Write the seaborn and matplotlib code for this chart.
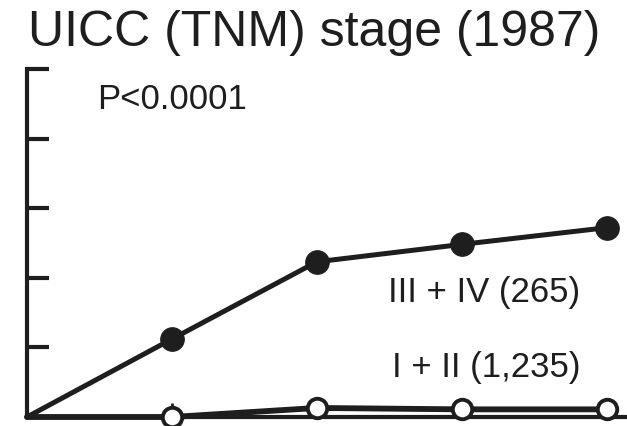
import matplotlib
matplotlib.use("Agg")
import matplotlib.pyplot as plt
import seaborn as sns
import pandas as pd

# values (y in tick units, x in intervals)
years = [0, 1, 2, 3, 4]
stage_3_4 = [0.0, 1.12, 2.23, 2.48, 2.72]
stage_1_2 = [0.0, 0.0, 0.13, 0.11, 0.11]
y_ticks = [0, 1, 2, 3, 4, 5]

title_text = "UICC (TNM) stage (1987)"
p_text = "P<0.0001"
label_3_4 = "III + IV (265)"
label_1_2 = "I + II (1,235)"

ink = "#1e1e1e"

sns.set_theme(style="white")
plt.rcParams['font.family'] = ['Liberation Sans', 'DejaVu Sans']

df_hi = pd.DataFrame({"year": years, "rate": stage_3_4})
df_lo = pd.DataFrame({"year": years, "rate": stage_1_2})

fig = plt.figure(figsize=(6.27, 4.27), dpi=100)
fig.patch.set_facecolor("white")
ax = fig.add_axes([27 / 627, 9 / 427, 1 - 27 / 627, (418 - 70) / 427])

sns.lineplot(data=df_lo, x="year", y="rate", ax=ax, color=ink, lw=4.2,
             marker="o", markersize=14, markerfacecolor="white",
             markeredgecolor=ink, markeredgewidth=2.8, clip_on=False, zorder=3)
sns.lineplot(data=df_hi, x="year", y="rate", ax=ax, color=ink, lw=3.6,
             marker="o", markersize=17, markerfacecolor=ink,
             markeredgecolor=ink, clip_on=False, zorder=4)

# lines start at the corner without a marker
for line in ax.lines:
    line.set_markevery(list(range(1, len(years))))

ax.set_xlim(0, 4.14)
ax.set_ylim(0, 5)
ax.set_yticks(y_ticks)
ax.set_yticklabels([])
ax.set_xticks(years[1:2])
ax.set_xticklabels([])
ax.set_xlabel("")
ax.set_ylabel("")
ax.tick_params(axis="y", direction="in", length=16, width=3, color=ink, left=True)
ax.tick_params(axis="x", direction="in", length=10, width=2, color=ink, bottom=True)

for side in ["top", "right"]:
    ax.spines[side].set_visible(False)
for side in ["left", "bottom"]:
    ax.spines[side].set_color(ink)
    ax.spines[side].set_linewidth(3)

fig.text(314.5 / 627, 1 - 33 / 427, title_text, ha="center", va="center",
         fontsize=36, color=ink)
ax.text(0.483, 4.58, p_text, ha="left", va="center", fontsize=25, color=ink)
ax.text(3.82, 1.80, label_3_4, ha="right", va="center", fontsize=25, color=ink)
ax.text(3.82, 0.72, label_1_2, ha="right", va="center", fontsize=25, color=ink)

fig.savefig("out.png", dpi=100, facecolor="white")
